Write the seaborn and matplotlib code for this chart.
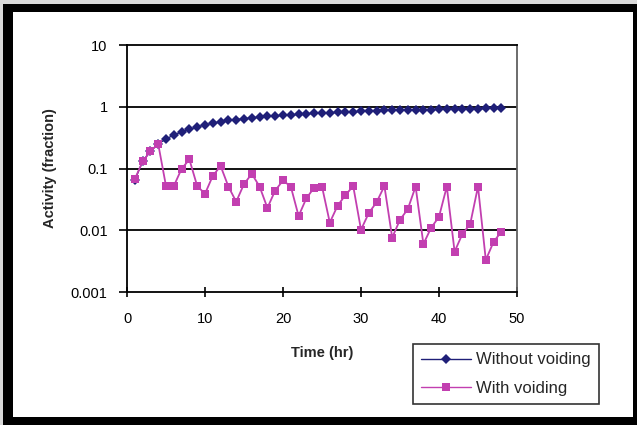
import matplotlib
matplotlib.use("Agg")
import matplotlib.pyplot as plt
from matplotlib.patches import Rectangle
from matplotlib.lines import Line2D
from matplotlib.ticker import FixedLocator, FixedFormatter, NullLocator
import seaborn as sns
import pandas as pd

hours = list(range(1, 49))
without_voiding = [0.065, 0.13, 0.19, 0.25, 0.30, 0.35, 0.39, 0.43, 0.47, 0.51,
                   0.54, 0.57, 0.60, 0.62, 0.64, 0.66, 0.68, 0.70, 0.71, 0.73,
                   0.74, 0.75, 0.77, 0.78, 0.79, 0.80, 0.81, 0.82, 0.83, 0.84,
                   0.85, 0.86, 0.87, 0.87, 0.88, 0.89, 0.89, 0.90, 0.90, 0.91,
                   0.91, 0.92, 0.92, 0.93, 0.93, 0.94, 0.96, 0.97]
with_voiding = [0.067, 0.13, 0.19, 0.25, 0.052, 0.052, 0.099, 0.14, 0.052, 0.039,
                0.076, 0.11, 0.051, 0.029, 0.056, 0.082, 0.051, 0.023, 0.044, 0.064,
                0.051, 0.017, 0.033, 0.049, 0.051, 0.0133, 0.025, 0.037, 0.052, 0.0102,
                0.019, 0.0285, 0.052, 0.0076, 0.0148, 0.022, 0.051, 0.006, 0.011, 0.0165,
                0.051, 0.0045, 0.0087, 0.0126, 0.051, 0.0033, 0.0065, 0.0095]
y_ticks = [0.001, 0.01, 0.1, 1, 10]
y_tick_labels = ["0.001", "0.01", "0.1", "1", "10"]
x_ticks = [0, 10, 20, 30, 40, 50]
series_names = ["Without voiding", "With voiding"]

sns.set_style("white")
plt.rcParams['font.family'] = ['Liberation Sans', 'DejaVu Sans']

W, H = 637, 425
fig = plt.figure(figsize=(W / 100, H / 100), dpi=100, facecolor="#d9d9d9")
# black frame and white inner area
fig.patches.append(Rectangle((3 / W, 0), 1 - 3 / W, (H - 4) / H, transform=fig.transFigure,
                             facecolor="black", edgecolor="none", zorder=-10))
fig.patches.append(Rectangle((13 / W, (H - 417) / H), (633 - 13) / W, (417 - 12) / H,
                             transform=fig.transFigure, facecolor="white",
                             edgecolor="none", zorder=-9))

ax = fig.add_axes([127 / W, (H - 292) / H, (517 - 127) / W, (292 - 45) / H])
ax.set_facecolor("white")

df1 = pd.DataFrame({"t": hours, "v": without_voiding})
df2 = pd.DataFrame({"t": hours, "v": with_voiding})
blue = "#1f1f78"
pink = "#c23fb0"
sns.lineplot(data=df1, x="t", y="v", ax=ax, color=blue, marker="D", markersize=5,
             markeredgewidth=0, linewidth=1.0, zorder=3)
sns.lineplot(data=df2, x="t", y="v", ax=ax, color=pink, marker="s", markersize=5.8,
             markeredgewidth=0, linewidth=1.3, zorder=4)

ax.set_yscale("log")
ax.set_ylim(0.001, 10)
ax.set_xlim(0, 50)
ax.yaxis.set_major_locator(FixedLocator(y_ticks))
ax.yaxis.set_major_formatter(FixedFormatter(y_tick_labels))
ax.yaxis.set_minor_locator(NullLocator())
ax.set_xticks(x_ticks)
ax.set_xticklabels([str(v) for v in x_ticks])

for yv in [0.01, 0.1, 1]:
    ax.axhline(yv, color="black", linewidth=1.3, zorder=1)

for s in ["left", "bottom", "top"]:
    ax.spines[s].set_color("black")
    ax.spines[s].set_linewidth(1.3)
ax.spines["right"].set_color("#606060")
ax.spines["right"].set_linewidth(1.3)

ax.tick_params(axis="y", direction="out", length=6, width=1.2, pad=8, labelsize=10.5,
               left=True, colors="black")
ax.tick_params(axis="x", direction="inout", length=7, width=1.2, pad=11, labelsize=10.5,
               bottom=True, colors="black")

ax.set_xlabel("Time (hr)", fontsize=10.5, fontweight="bold", labelpad=14)
ax.set_ylabel("Activity (fraction)", fontsize=10.5, fontweight="bold", labelpad=10)

handles = [Line2D([0], [0], color=blue, marker="D", markersize=5, markeredgewidth=0, lw=1.0),
           Line2D([0], [0], color=pink, marker="s", markersize=5.8, markeredgewidth=0, lw=1.0)]
leg = fig.legend(handles, series_names, loc="upper left",
                 bbox_to_anchor=(413 / W, (H - 344) / H), frameon=True, fancybox=False,
                 edgecolor="black", fontsize=12, handlelength=3.0, handletextpad=0.3,
                 borderpad=0.5, labelspacing=0.8, borderaxespad=0)
leg.get_frame().set_linewidth(1.2)

fig.savefig("out.png", dpi=100, facecolor=fig.get_facecolor())
